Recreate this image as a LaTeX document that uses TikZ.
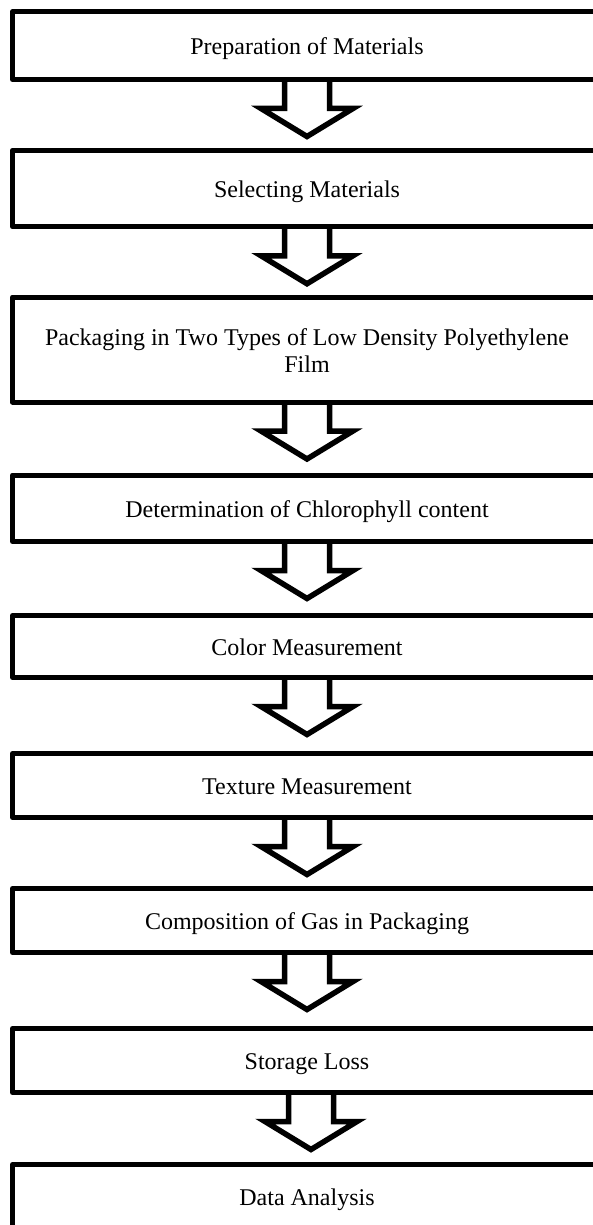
\documentclass[tikz,border=0pt]{standalone}
\usepackage{fontspec}
\setmainfont{Liberation Serif}
\usetikzlibrary{calc}
\tikzset{
  boxst/.style={draw=black, line width=5pt, line join=round, fill=none,
    minimum width=589pt, inner sep=0pt, outer sep=0pt},
  txtst/.style={anchor=base, inner sep=0pt, align=center,
    font=\fontsize{24}{27.7}\selectfont},
  arrowst/.style={draw=black, line width=5.5pt, line join=miter, miter limit=10}
}
\newcommand{\flowarrow}[3]{% from box, to box, x shift
  \draw[arrowst] ($(#1.south)+(#3-22.5,0)$) -- ++(0,29) -- ++(-23.5,0)
    -- ($(#1.south)+(#3,57)$) -- ($(#1.south)+(#3+46,29)$) -- ++(-23.5,0)
    -- ($(#1.south)+(#3+22.5,0)$);
}
\begin{document}
\begin{tikzpicture}[x=1pt,y=-1pt]
\useasboundingbox (0,0) rectangle (593,1225);
\clip (0,0) rectangle (593,1225);
\fill[white] (0,0) rectangle (593,1225);

\node[boxst, minimum height=67.8pt] (b1) at (307,45.6) {};
\node[boxst, minimum height=76.5pt] (b2) at (307,188.5) {};
\node[boxst, minimum height=105pt] (b3) at (307,349.5) {};
\node[boxst, minimum height=66.5pt] (b4) at (307,508.25) {};
\node[boxst, minimum height=62pt] (b5) at (307,646.5) {};
\node[boxst, minimum height=64pt] (b6) at (307,785.5) {};
\node[boxst, minimum height=64pt] (b7) at (307,920.5) {};
\node[boxst, minimum height=64pt] (b8) at (307,1060.5) {};
\node[boxst, minimum height=100pt] (b9) at (307,1214.5) {};

\node[txtst] (t1) at (307,55) {Preparation of Materials};
\node[txtst] (t2) at (307,197) {Selecting Materials};
\node[txtst] (t3) at (307,372.7) {Packaging in Two Types of Low Density Polyethylene\\Film};
\node[txtst] (t4) at (307,517) {Determination of Chlorophyll content};
\node[txtst] (t5) at (307,655.5) {Color Measurement};
\node[txtst] (t6) at (307,794.3) {Texture Measurement};
\node[txtst] (t7) at (307,929.3) {Composition of Gas in Packaging};
\node[txtst] (t8) at (307,1069.5) {Storage Loss};
\node[txtst] (t9) at (307,1205) {Data Analysis};

\flowarrow{b1}{b2}{0}
\flowarrow{b2}{b3}{0}
\flowarrow{b3}{b4}{0}
\flowarrow{b4}{b5}{0}
\flowarrow{b5}{b6}{0}
\flowarrow{b6}{b7}{0}
\flowarrow{b7}{b8}{0}
\flowarrow{b8}{b9}{4}
\end{tikzpicture}
\end{document}
